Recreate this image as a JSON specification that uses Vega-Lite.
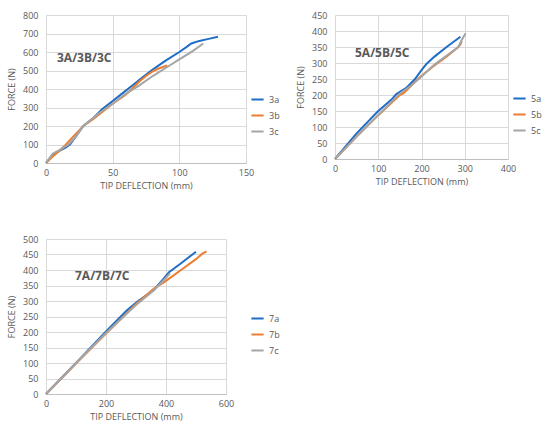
{
  "$schema": "https://vega.github.io/schema/vega-lite/v6.json",
  "description": "Force vs tip deflection for beam specimens 3, 5 and 7",
  "background": "white",
  "padding": {"left": 7, "top": 11, "right": 5, "bottom": 5},
  "config": {
    "font": "Open Sans",
    "view": {"stroke": null},
    "axis": {
      "grid": true,
      "gridColor": "#d9d9d9",
      "ticks": false,
      "domain": false,
      "labelOverlap": false,
      "labelColor": "#595959",
      "labelFontSize": 9,
      "titleColor": "#595959",
      "titleFontSize": 9,
      "titleFontWeight": "normal"
    },
    "axisX": {"domain": true, "domainColor": "#bfbfbf", "labelFlush": false, "labelPadding": 5, "titlePadding": 4},
    "axisY": {"labelPadding": 8, "titlePadding": 6},
    "legend": {
      "orient": "none",
      "title": null,
      "symbolType": "stroke",
      "symbolStrokeWidth": 2,
      "symbolSize": 150,
      "labelColor": "#595959",
      "labelFontSize": 9,
      "rowPadding": 3
    },
    "title": {"anchor": "start", "frame": "group", "fontSize": 12, "fontWeight": "bold", "color": "#595959"},
    "line": {"strokeWidth": 2}
  },
  "datasets": {
    "p3": [
      {"series": "3a", "deflection": 0, "force": 0},
      {"series": "3a", "deflection": 3, "force": 25},
      {"series": "3a", "deflection": 6, "force": 50},
      {"series": "3a", "deflection": 10, "force": 65},
      {"series": "3a", "deflection": 15, "force": 85},
      {"series": "3a", "deflection": 18, "force": 100},
      {"series": "3a", "deflection": 22, "force": 140},
      {"series": "3a", "deflection": 28, "force": 200},
      {"series": "3a", "deflection": 35, "force": 240},
      {"series": "3a", "deflection": 42, "force": 290},
      {"series": "3a", "deflection": 50, "force": 335},
      {"series": "3a", "deflection": 57, "force": 375},
      {"series": "3a", "deflection": 65, "force": 420},
      {"series": "3a", "deflection": 72, "force": 460},
      {"series": "3a", "deflection": 80, "force": 505},
      {"series": "3a", "deflection": 90, "force": 555},
      {"series": "3a", "deflection": 100, "force": 600},
      {"series": "3a", "deflection": 105, "force": 625},
      {"series": "3a", "deflection": 109, "force": 646},
      {"series": "3a", "deflection": 115, "force": 660},
      {"series": "3a", "deflection": 122, "force": 671},
      {"series": "3a", "deflection": 129, "force": 682},
      {"series": "3b", "deflection": 0, "force": 0},
      {"series": "3b", "deflection": 5, "force": 35},
      {"series": "3b", "deflection": 10, "force": 65},
      {"series": "3b", "deflection": 15, "force": 100},
      {"series": "3b", "deflection": 20, "force": 140},
      {"series": "3b", "deflection": 28, "force": 200},
      {"series": "3b", "deflection": 35, "force": 235},
      {"series": "3b", "deflection": 42, "force": 275},
      {"series": "3b", "deflection": 50, "force": 320},
      {"series": "3b", "deflection": 60, "force": 370},
      {"series": "3b", "deflection": 70, "force": 440},
      {"series": "3b", "deflection": 75, "force": 470},
      {"series": "3b", "deflection": 80, "force": 495},
      {"series": "3b", "deflection": 85, "force": 512},
      {"series": "3b", "deflection": 91, "force": 527},
      {"series": "3c", "deflection": 0, "force": 0},
      {"series": "3c", "deflection": 3, "force": 30},
      {"series": "3c", "deflection": 5, "force": 50},
      {"series": "3c", "deflection": 10, "force": 70},
      {"series": "3c", "deflection": 17, "force": 100},
      {"series": "3c", "deflection": 22, "force": 140},
      {"series": "3c", "deflection": 28, "force": 200},
      {"series": "3c", "deflection": 40, "force": 270},
      {"series": "3c", "deflection": 50, "force": 320},
      {"series": "3c", "deflection": 60, "force": 375},
      {"series": "3c", "deflection": 70, "force": 420},
      {"series": "3c", "deflection": 80, "force": 470},
      {"series": "3c", "deflection": 90, "force": 515},
      {"series": "3c", "deflection": 100, "force": 560},
      {"series": "3c", "deflection": 110, "force": 605},
      {"series": "3c", "deflection": 118, "force": 646}
    ],
    "p5": [
      {"series": "5a", "deflection": 0, "force": 0},
      {"series": "5a", "deflection": 25, "force": 40},
      {"series": "5a", "deflection": 50, "force": 80},
      {"series": "5a", "deflection": 100, "force": 150},
      {"series": "5a", "deflection": 130, "force": 185},
      {"series": "5a", "deflection": 142, "force": 203},
      {"series": "5a", "deflection": 150, "force": 210},
      {"series": "5a", "deflection": 165, "force": 222},
      {"series": "5a", "deflection": 185, "force": 250},
      {"series": "5a", "deflection": 200, "force": 278},
      {"series": "5a", "deflection": 212, "force": 298},
      {"series": "5a", "deflection": 230, "force": 320},
      {"series": "5a", "deflection": 258, "force": 350},
      {"series": "5a", "deflection": 290, "force": 382},
      {"series": "5b", "deflection": 0, "force": 0},
      {"series": "5b", "deflection": 50, "force": 70},
      {"series": "5b", "deflection": 100, "force": 137},
      {"series": "5b", "deflection": 150, "force": 200},
      {"series": "5b", "deflection": 158, "force": 205},
      {"series": "5b", "deflection": 168, "force": 218},
      {"series": "5b", "deflection": 178, "force": 232},
      {"series": "5b", "deflection": 200, "force": 260},
      {"series": "5b", "deflection": 230, "force": 292},
      {"series": "5b", "deflection": 260, "force": 322},
      {"series": "5b", "deflection": 285, "force": 350},
      {"series": "5b", "deflection": 290, "force": 358},
      {"series": "5b", "deflection": 293, "force": 368},
      {"series": "5c", "deflection": 0, "force": 0},
      {"series": "5c", "deflection": 50, "force": 70},
      {"series": "5c", "deflection": 100, "force": 137},
      {"series": "5c", "deflection": 150, "force": 205},
      {"series": "5c", "deflection": 175, "force": 228},
      {"series": "5c", "deflection": 200, "force": 258},
      {"series": "5c", "deflection": 230, "force": 295},
      {"series": "5c", "deflection": 260, "force": 325},
      {"series": "5c", "deflection": 285, "force": 350},
      {"series": "5c", "deflection": 293, "force": 372},
      {"series": "5c", "deflection": 302, "force": 393}
    ],
    "p7": [
      {"series": "7a", "deflection": 0, "force": 0},
      {"series": "7a", "deflection": 100, "force": 100},
      {"series": "7a", "deflection": 200, "force": 202},
      {"series": "7a", "deflection": 270, "force": 270},
      {"series": "7a", "deflection": 307, "force": 300},
      {"series": "7a", "deflection": 340, "force": 322},
      {"series": "7a", "deflection": 365, "force": 342},
      {"series": "7a", "deflection": 390, "force": 370},
      {"series": "7a", "deflection": 410, "force": 393},
      {"series": "7a", "deflection": 448, "force": 420},
      {"series": "7a", "deflection": 500, "force": 459},
      {"series": "7b", "deflection": 0, "force": 0},
      {"series": "7b", "deflection": 100, "force": 98},
      {"series": "7b", "deflection": 200, "force": 195},
      {"series": "7b", "deflection": 300, "force": 290},
      {"series": "7b", "deflection": 360, "force": 340},
      {"series": "7b", "deflection": 400, "force": 365},
      {"series": "7b", "deflection": 450, "force": 400},
      {"series": "7b", "deflection": 500, "force": 435},
      {"series": "7b", "deflection": 520, "force": 452},
      {"series": "7b", "deflection": 535, "force": 460},
      {"series": "7c", "deflection": 0, "force": 0},
      {"series": "7c", "deflection": 100, "force": 100},
      {"series": "7c", "deflection": 200, "force": 197},
      {"series": "7c", "deflection": 300, "force": 287},
      {"series": "7c", "deflection": 360, "force": 335},
      {"series": "7c", "deflection": 400, "force": 375},
      {"series": "7c", "deflection": 413, "force": 389}
    ]
  },
  "resolve": {"scale": {"color": "independent"}, "legend": {"color": "independent"}},
  "spacing": 45,
  "vconcat": [
    {
      "resolve": {"scale": {"color": "independent"}, "legend": {"color": "independent"}},
      "spacing": 16,
      "hconcat": [
        {
          "width": 200,
          "height": 148,
          "title": {"text": "3A/3B/3C", "dx": 11, "offset": -54},
          "data": {"name": "p3"},
          "mark": "line",
          "encoding": {
            "x": {"field": "deflection", "type": "quantitative", "title": "TIP DEFLECTION (mm)",
                  "scale": {"domain": [0, 150], "nice": false}, "axis": {"values": [0, 50, 100, 150]}},
            "y": {"field": "force", "type": "quantitative", "title": "FORCE (N)",
                  "scale": {"domain": [0, 800], "nice": false},
                  "axis": {"values": [0, 100, 200, 300, 400, 500, 600, 700, 800]}},
            "color": {"field": "series", "type": "nominal",
                      "scale": {"domain": ["3a", "3b", "3c"], "range": ["#1f6dc5", "#ed7d31", "#a5a5a5"]},
                      "legend": {"legendX": 204, "legendY": 77}}
          }
        },
        {
          "width": 173,
          "height": 144,
          "title": {"text": "5A/5B/5C", "dx": 20, "offset": -49},
          "data": {"name": "p5"},
          "mark": "line",
          "encoding": {
            "x": {"field": "deflection", "type": "quantitative", "title": "TIP DEFLECTION (mm)",
                  "scale": {"domain": [0, 400], "nice": false}, "axis": {"values": [0, 100, 200, 300, 400]}},
            "y": {"field": "force", "type": "quantitative", "title": "FORCE (N)",
                  "scale": {"domain": [0, 450], "nice": false},
                  "axis": {"values": [0, 50, 100, 150, 200, 250, 300, 350, 400, 450]}},
            "color": {"field": "series", "type": "nominal",
                      "scale": {"domain": ["5a", "5b", "5c"], "range": ["#1f6dc5", "#ed7d31", "#a5a5a5"]},
                      "legend": {"legendX": 177, "legendY": 76}}
          }
        }
      ]
    },
    {
      "width": 180,
      "height": 155,
      "title": {"text": "7A/7B/7C", "dx": 29, "offset": -48},
      "data": {"name": "p7"},
      "mark": "line",
      "encoding": {
        "x": {"field": "deflection", "type": "quantitative", "title": "TIP DEFLECTION (mm)",
              "scale": {"domain": [0, 600], "nice": false}, "axis": {"values": [0, 200, 400, 600]}},
        "y": {"field": "force", "type": "quantitative", "title": "FORCE (N)",
              "scale": {"domain": [0, 500], "nice": false},
              "axis": {"values": [0, 50, 100, 150, 200, 250, 300, 350, 400, 450, 500]}},
        "color": {"field": "series", "type": "nominal",
                  "scale": {"domain": ["7a", "7b", "7c"], "range": ["#1f6dc5", "#ed7d31", "#a5a5a5"]},
                  "legend": {"legendX": 204, "legendY": 72}},
        "strokeWidth": {"field": "series", "type": "nominal",
                        "scale": {"domain": ["7a", "7b", "7c"], "range": [2, 1.2, 1.6]}, "legend": null}
      }
    }
  ]
}
